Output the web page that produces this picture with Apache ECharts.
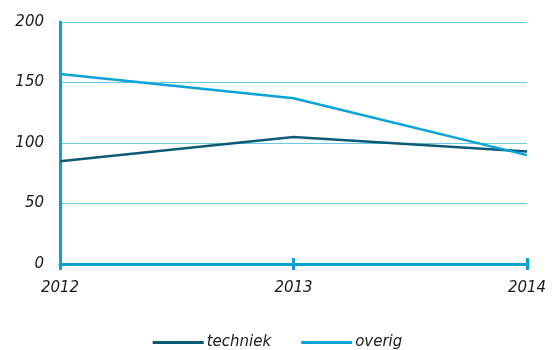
<!DOCTYPE html>
<html>
<head>
<meta charset="utf-8">
<script src="https://cdn.jsdelivr.net/npm/echarts@6/dist/echarts.min.js"></script>
<style>
  html, body { margin: 0; padding: 0; background: #fff; }
  #chart { width: 555px; height: 350px; }
</style>
</head>
<body>
<div id="chart"></div>
<script>
// Jaren en aantallen per categorie
const years = ['2012', '2013', '2014'];
const techniek = [85, 105, 93];
const overig = [157, 137, 90];
const yTicks = [0, 50, 100, 150, 200];

const axisBlue = '#0aa0d4';
const gridBlue = '#6cc6e6';
const font = 'DejaVu Sans';

const chart = echarts.init(document.getElementById('chart'));
chart.setOption({
  animation: false,
  grid: { left: 60, right: 28, top: 22, bottom: 86 },
  legend: {
    top: 330,
    left: 'center',
    icon: 'rect',
    itemWidth: 51,
    itemHeight: 3,
    itemGap: 30,
    textStyle: { fontFamily: font, fontStyle: 'italic', fontSize: 15, color: '#1a1a1a', padding: [0, 0, 0, -2] },
    data: ['techniek', 'overig']
  },
  xAxis: [{
    type: 'category',
    data: years,
    boundaryGap: false,
    axisLine: { lineStyle: { color: axisBlue, width: 3 } },
    axisTick: { show: true, alignWithLabel: true, length: 6, lineStyle: { color: axisBlue, width: 3 } },
    axisLabel: { fontFamily: font, fontStyle: 'italic', fontSize: 15, color: '#1a1a1a', margin: 17 },
    splitLine: { show: false }
  }, {
    type: 'category',
    data: years,
    boundaryGap: false,
    position: 'bottom',
    axisLine: { show: false },
    axisTick: { show: true, inside: true, length: 6, lineStyle: { color: axisBlue, width: 3 } },
    axisLabel: { show: false },
    splitLine: { show: false }
  }],
  yAxis: {
    type: 'value',
    min: yTicks[0],
    max: yTicks[yTicks.length - 1],
    interval: 50,
    axisLine: { show: true, lineStyle: { color: axisBlue, width: 3 } },
    axisTick: { show: false },
    axisLabel: { fontFamily: font, fontStyle: 'italic', fontSize: 15, color: '#1a1a1a', margin: 16 },
    splitLine: { lineStyle: { color: gridBlue, width: 1 } }
  },
  series: [{
    name: 'techniek',
    type: 'line',
    data: techniek,
    symbol: 'none',
    lineStyle: { color: '#0b5a76', width: 2.5 },
    itemStyle: { color: '#0b5a76' }
  }, {
    name: 'overig',
    type: 'line',
    data: overig,
    symbol: 'none',
    lineStyle: { color: '#0aa3d8', width: 2.5 },
    itemStyle: { color: '#0aa3d8' }
  }]
});
</script>
</body>
</html>
